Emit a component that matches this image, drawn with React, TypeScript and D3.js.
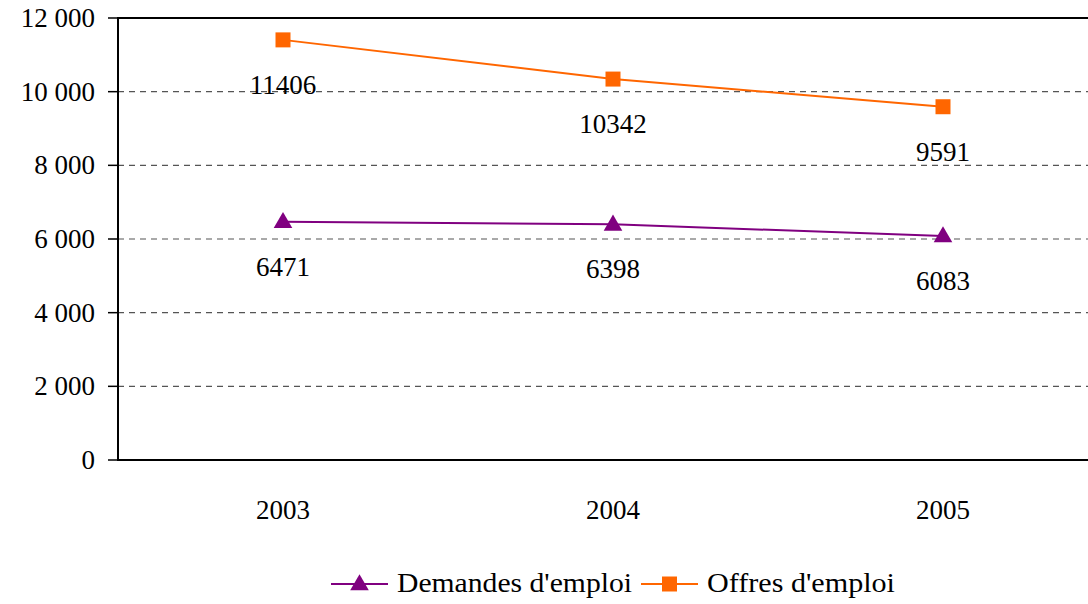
import React from "react";
import * as d3 from "d3";

const years = ["2003", "2004", "2005"];
const demandes = [6471, 6398, 6083];
const offres = [11406, 10342, 9591];
const yTicks = [0, 2000, 4000, 6000, 8000, 10000, 12000];
const seriesNames = ["Demandes d'emploi", "Offres d'emploi"];
const seriesColors = ["#800080", "#FF6600"];

const width = 1088;
const height = 604;
const margin = { top: 18, left: 118, bottom: 144 };
const plotW = 990;

export default function App() {
  const x = d3.scaleBand().domain(years).range([margin.left, margin.left + plotW]);
  const y = d3.scaleLinear().domain([0, 12000]).range([height - margin.bottom, margin.top]);
  const fmt = (v: number) => d3.format(",")(v).replace(/,/g, " ");
  const cx = (i: number) => x(years[i])! + x.bandwidth() / 2;
  const line = d3.line<number>().x((_, i) => cx(i)).y((d) => y(d));
  const tri = d3.symbol().type(d3.symbolTriangle).size(150)()!;
  const sq = d3.symbol().type(d3.symbolSquare).size(225)()!;

  const legendX = [331, 641];
  const legendLen = [235, 188];
  const ly = 584;

  return (
    <div style={{ position: "absolute", left: 0, top: 0 }}>
      <svg width={width} height={height} fontFamily="Liberation Serif" fontSize={27}
        style={{ display: "block", background: "#fff", fontFamily: "'Liberation Serif'" }}>
        {/* gridlines */}
        {yTicks.filter((t) => t > 0 && t < 12000).map((t) => (
          <line key={t} x1={margin.left} x2={margin.left + plotW} y1={y(t)} y2={y(t)}
            stroke="#555" strokeWidth={1.2} strokeDasharray="6,5" />
        ))}
        {/* frame */}
        <rect x={margin.left} y={margin.top} width={plotW} height={y(0) - margin.top}
          fill="none" stroke="#000" strokeWidth={2} />
        {/* y axis */}
        {yTicks.map((t) => (
          <g key={t} transform={`translate(${margin.left},${y(t)})`}>
            <line x1={-10} x2={0} stroke="#000" strokeWidth={1.5} />
            <text x={-23} dy="0.33em" textAnchor="end" fontFamily="Liberation Serif">{fmt(t)}</text>
          </g>
        ))}
        {/* x labels */}
        {years.map((yr, i) => (
          <text key={yr} x={cx(i)} y={519} textAnchor="middle" fontFamily="Liberation Serif">{yr}</text>
        ))}
        {/* series */}
        {[demandes, offres].map((data, s) => (
          <g key={s}>
            <path d={line(data)!} fill="none" stroke={seriesColors[s]} strokeWidth={2} />
            {data.map((d, i) => (
              <path key={i} d={s === 0 ? tri : sq} fill={seriesColors[s]}
                transform={`translate(${cx(i)},${y(d) + (s === 0 ? 1 : 0)})`} />
            ))}
            {data.map((d, i) => (
              <text key={"t" + i} x={cx(i)} y={y(d) + 54} textAnchor="middle" fontFamily="Liberation Serif">{d}</text>
            ))}
          </g>
        ))}
        {/* legend */}
        {seriesNames.map((name, s) => (
          <g key={name} transform={`translate(${legendX[s]},${ly})`}>
            <line x1={0} x2={57} stroke={seriesColors[s]} strokeWidth={2} />
            <path d={s === 0 ? tri : sq} fill={seriesColors[s]} transform={`translate(28.5,${s === 0 ? 1 : 0})`} />
            <text x={66} y={8} textLength={legendLen[s]} lengthAdjust="spacingAndGlyphs" fontFamily="Liberation Serif">{name}</text>
          </g>
        ))}
      </svg>
    </div>
  );
}
